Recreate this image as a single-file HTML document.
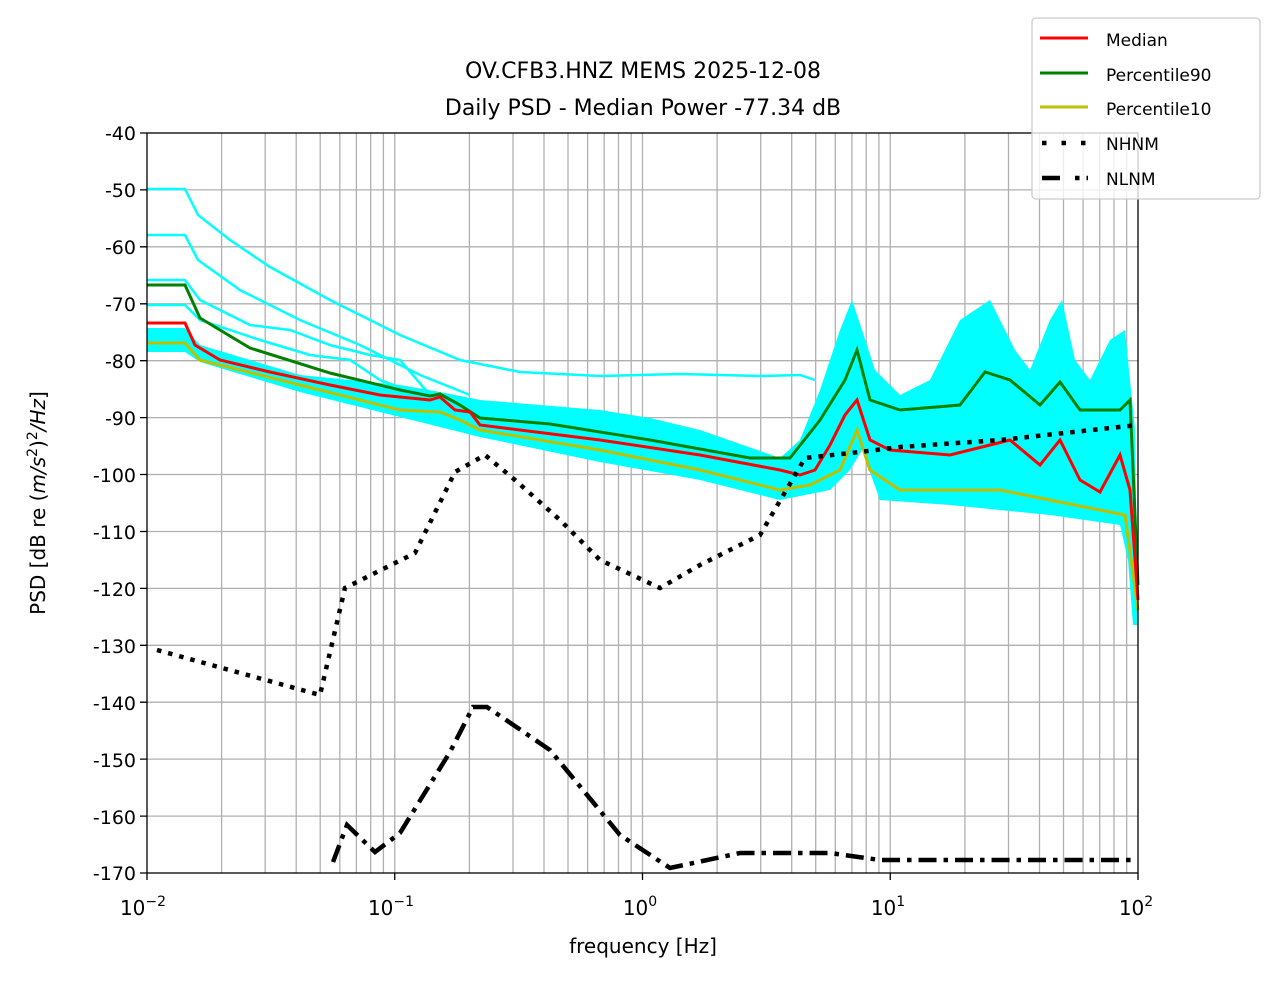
<!DOCTYPE html>
<html><head><meta charset="utf-8"><style>
body{margin:0;background:#fff;}
svg{display:block;font-family:"DejaVu Sans","Liberation Sans",sans-serif;}
</style></head><body>
<svg width="1278" height="981" viewBox="0 0 1278 981" xmlns="http://www.w3.org/2000/svg">
<rect width="1278" height="981" fill="#fff"/>
<g stroke="#b0b0b0" stroke-width="1.3" fill="none">
<path d="M394.75 133V873M642.5 133V873M890.25 133V873
M221.6 133V873M265.2 133V873M296.2 133V873M320.2 133V873M339.8 133V873M356.4 133V873M370.7 133V873M383.4 133V873
M469.4 133V873M513 133V873M544 133V873M568 133V873M587.6 133V873M604.2 133V873M618.5 133V873M631.2 133V873
M717.1 133V873M760.7 133V873M791.7 133V873M815.7 133V873M835.3 133V873M851.9 133V873M866.2 133V873M878.9 133V873
M964.9 133V873M1008.5 133V873M1039.5 133V873M1063.5 133V873M1083.1 133V873M1099.7 133V873M1114 133V873M1126.7 133V873
M147 189.9H1138M147 246.8H1138M147 303.8H1138M147 360.7H1138M147 417.6H1138M147 474.5H1138M147 531.5H1138M147 588.4H1138M147 645.3H1138M147 702.2H1138M147 759.1H1138M147 816.1H1138"/>
</g>
<!-- cyan band -->
<polygon fill="#00ffff" points="147,328 185,328 200,345 300,375 400,385 440,392 480,400 540,405 600,410 650,418 700,430 780,458 800,440 820,390 840,330 852,300 862,330 875,370 900,395 930,380 960,320 990,300 1015,350 1030,370 1050,320 1062,300 1075,360 1090,380 1110,340 1125,330 1135,430 1138,625 1133,625 1128,560 1120,525 1050,515 950,505 880,500 862,450 850,470 830,490 780,500 700,480 600,462 480,437 400,417 300,392 200,362 185,352 147,352"/>
<g fill="none" stroke="#00ffff" stroke-width="2.5">
<polyline points="147,189 185,189 198,215 230,240 270,267 330,300 400,335 460,360 520,372 600,376 680,374 760,376 800,375 815,380"/>
<polyline points="147,235 185,235 198,260 240,290 300,320 360,345 420,375 470,395"/>
<polyline points="147,280 185,280 200,300 250,325 290,330 330,345 370,355 400,360 430,395"/>
<polyline points="147,305 185,305 200,320 260,340 310,355 350,360 380,380 420,395"/>
</g>
<polyline fill="none" stroke="#008000" stroke-width="3" points="147,285 185,285 200,318 250,348 330,373 400,390 430,396 440,394 460,405 480,418 550,424 650,440 750,458 790,458 820,420 845,380 857,350 870,400 900,410 960,405 985,372 1010,380 1040,405 1060,382 1080,410 1120,410 1130,400 1138,585"/>
<polyline fill="none" stroke="#bfbf00" stroke-width="3" points="147,343 185,343 200,360 300,385 400,410 440,412 460,420 480,430 600,450 700,470 780,490 810,485 840,470 857,430 870,470 900,490 950,490 1000,490 1050,500 1100,510 1125,515 1138,610"/>
<polyline fill="none" stroke="#ff0000" stroke-width="3" points="147,323 185,323 195,345 220,360 270,372 330,385 380,395 410,398 430,400 440,397 455,410 470,412 480,425 520,430 600,440 700,455 780,470 800,475 815,470 830,445 845,415 857,400 870,440 890,450 950,455 990,445 1010,440 1040,465 1060,440 1080,480 1100,492 1120,455 1130,490 1138,600"/>
<polyline fill="none" stroke="#000" stroke-width="4.5" stroke-dasharray="4.5,7" points="157,650 320,695 345,588 415,553 455,472 485,455 515,480 560,520 600,560 660,588 700,565 760,535 805,458 860,452 900,447 1000,440 1138,425"/>
<polyline fill="none" stroke="#000" stroke-width="4.5" stroke-dasharray="18,7,4.5,7" points="333,862 347,825 375,852 400,833 450,752 473,707 487,707 550,750 620,835 670,868 740,853 830,853 880,860 1138,860"/>
<rect x="147" y="133" width="991" height="740" fill="none" stroke="#000" stroke-width="1.3"/>
<g stroke="#000" stroke-width="1.3">
<path d="M147 873v7M394.75 873v7M642.5 873v7M890.25 873v7M1138 873v7"/>
<path d="M147 133h-7M147 189.9h-7M147 246.8h-7M147 303.8h-7M147 360.7h-7M147 417.6h-7M147 474.5h-7M147 531.5h-7M147 588.4h-7M147 645.3h-7M147 702.2h-7M147 759.1h-7M147 816.1h-7M147 873h-7"/>
</g>
<g font-size="19" text-anchor="end" fill="#000">
<text x="136" y="140">-40</text><text x="136" y="197">-50</text><text x="136" y="254">-60</text><text x="136" y="311">-70</text><text x="136" y="368">-80</text><text x="136" y="425">-90</text><text x="136" y="482">-100</text><text x="136" y="539">-110</text><text x="136" y="596">-120</text><text x="136" y="653">-130</text><text x="136" y="710">-140</text><text x="136" y="767">-150</text><text x="136" y="824">-160</text><text x="136" y="880">-170</text>
</g>
<g font-size="20" text-anchor="middle">
<text x="143" y="915">10<tspan font-size="14" dy="-9">−2</tspan></text>
<text x="391" y="915">10<tspan font-size="14" dy="-9">−1</tspan></text>
<text x="640" y="915">10<tspan font-size="14" dy="-9">0</tspan></text>
<text x="888" y="915">10<tspan font-size="14" dy="-9">1</tspan></text>
<text x="1136" y="915">10<tspan font-size="14" dy="-9">2</tspan></text>
<text x="643" y="953">frequency [Hz]</text>
<text x="643" y="78" font-size="22">OV.CFB3.HNZ MEMS 2025-12-08</text>
<text x="643" y="115" font-size="22">Daily PSD - Median Power -77.34 dB</text>
<text transform="translate(45,503) rotate(-90)" font-size="20">PSD [dB re (<tspan font-style="italic">m/s</tspan><tspan font-size="14" dy="-8">2</tspan><tspan dy="8">)</tspan><tspan font-size="14" dy="-8">2</tspan><tspan dy="8" font-style="italic">/Hz</tspan>]</text>
</g>
<rect x="1032" y="18" width="228" height="181" rx="4" fill="#fff" fill-opacity="0.8" stroke="#ccc" stroke-width="1.3"/>
<g stroke-width="3">
<line x1="1040" y1="38" x2="1088" y2="38" stroke="#ff0000"/>
<line x1="1040" y1="73" x2="1088" y2="73" stroke="#008000"/>
<line x1="1040" y1="107" x2="1088" y2="107" stroke="#bfbf00"/>
</g>
<line x1="1042" y1="143" x2="1088" y2="143" stroke="#000" stroke-width="4.5" stroke-dasharray="4.5,15"/>
<line x1="1042" y1="178" x2="1088" y2="178" stroke="#000" stroke-width="4.5" stroke-dasharray="18,15,4.5,7"/>
<g font-size="17" fill="#000">
<text x="1106" y="46">Median</text><text x="1106" y="81">Percentile90</text><text x="1106" y="115">Percentile10</text><text x="1106" y="150">NHNM</text><text x="1106" y="185">NLNM</text>
</g>
</svg>
</body></html>
